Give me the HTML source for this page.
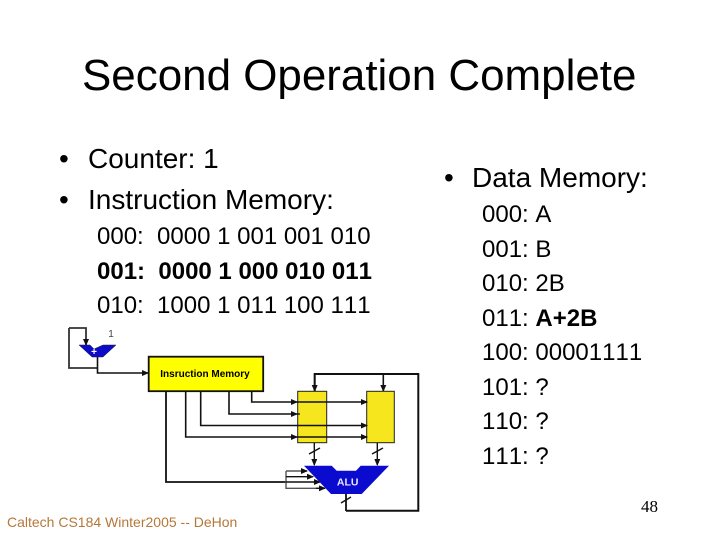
<!DOCTYPE html>
<html><head><meta charset="utf-8"><style>
html,body{margin:0;padding:0;background:#fff}
svg{display:block}
text{font-family:"Liberation Sans",sans-serif;fill:#000;white-space:pre;font-kerning:none}
.b{font-size:28px}.s{font-size:24px}
</style></head><body>
<svg xmlns="http://www.w3.org/2000/svg" width="720" height="540" viewBox="0 0 720 540">
<rect width="720" height="540" fill="#fff"/>
<text x="82" y="90" font-size="43.95">Second Operation Complete</text>
<text class="b" x="59" y="168">•</text><text class="b" x="88" y="168">Counter: 1</text>
<text class="b" x="59" y="209">•</text><text class="b" x="88" y="209">Instruction Memory:</text>
<text class="s" x="97" y="244" xml:space="preserve">000:  0000 1 001 001 010</text>
<text class="s" x="97" y="279" font-weight="bold" xml:space="preserve">001:  0000 1 000 010 011</text>
<text class="s" x="97" y="313" xml:space="preserve">010:  1000 1 011 100 111</text>
<text class="b" x="444" y="187">•</text><text class="b" x="472" y="187">Data Memory:</text>
<text class="s" x="482" y="222">000: A</text>
<text class="s" x="482" y="257">001: B</text>
<text class="s" x="482" y="291">010: 2B</text>
<text class="s" x="482" y="326">011: <tspan font-weight="bold">A+2B</tspan></text>
<text class="s" x="482" y="360">100: 00001111</text>
<text class="s" x="482" y="395">101: ?</text>
<text class="s" x="482" y="429">110: ?</text>
<text class="s" x="482" y="464">111: ?</text>
<text x="7" y="527" font-size="14" style="fill:#b5783a">Caltech CS184 Winter2005 -- DeHon</text>
<text x="641" y="512" font-size="17" style="font-family:'Liberation Serif',serif">48</text>
<defs><marker id="a" markerWidth="7" markerHeight="6" refX="6" refY="3" orient="auto" markerUnits="userSpaceOnUse"><path d="M0 0L7 3L0 6Z" fill="#111"/></marker></defs>
<g fill="none" stroke="#111" stroke-width="1.6">
<path d="M69 328V368H97.5M69 328H86V345" stroke="#333" stroke-width="1.8" marker-end="url(#a)"/>
<path d="M97.5 357V373H148" marker-end="url(#a)"/>
<path d="M166 391V482H286" stroke-width="1.8"/>
<path d="M185.7 391V437H297" marker-end="url(#a)"/>
<path d="M200.7 391V425.5H297"/>
<path d="M229 391V414H297" marker-end="url(#a)"/>
<path d="M251.7 391V402H297" marker-end="url(#a)"/>
<path d="M314.7 391V374H418.3V510.7H346" stroke-width="2"/>
<path d="M314.7 374V391" marker-end="url(#a)"/>
<path d="M383.3 374V391" marker-end="url(#a)"/>
</g>
<rect x="148.7" y="356.7" width="114.5" height="34.5" fill="#ffff00" stroke="#111" stroke-width="1.8"/>
<text x="205" y="377" font-size="10" font-weight="bold" text-anchor="middle">Insruction Memory</text>
<rect x="297.7" y="391.3" width="29" height="51.4" fill="#f5e61e" stroke="#222" stroke-width="1"/>
<rect x="366.7" y="391.3" width="27.6" height="51.4" fill="#f5e61e" stroke="#222" stroke-width="1"/>
<g fill="none" stroke="#111" stroke-width="1.4">
<path d="M297 402H367" marker-end="url(#a)"/>
<path d="M297 414H300"/>
<path d="M297 425.5H367" marker-end="url(#a)"/>
<path d="M297 437H367" marker-end="url(#a)"/>
<path d="M314.3 442.7V465" marker-end="url(#a)"/>
<path d="M377.3 442.7V465" marker-end="url(#a)"/>
<path d="M309 454L320 448M372 454L383 448M341 503L351 497" />
<path d="M346 494V511" stroke-width="1.8"/>
<path d="M286 471V488.3H325" stroke="#555"/>
<path d="M286 471H307" stroke="#555" marker-end="url(#a)"/>
<path d="M286 476.7H313" marker-end="url(#a)"/>
<path d="M286 482H320" marker-end="url(#a)"/>
<path d="M316 488.3H325" marker-end="url(#a)"/>
</g>
<polygon points="79,345 90,345 94,349 103,345 116,345 103,357 92,357" fill="#0c0cc8" stroke="#223" stroke-width=".5"/>
<text x="94" y="355" font-size="10" font-weight="bold" text-anchor="middle" style="fill:#fff">+</text>
<text x="111" y="337" font-size="10" text-anchor="middle" style="fill:#444">1</text>
<polygon points="304,465.7 331.7,465.7 336.7,470.7 356,470.7 360.7,465.7 389,465.7 361.7,494 331,494" fill="#0b0bd0"/>
<text x="347.7" y="485.5" font-size="10.5" font-weight="bold" text-anchor="middle" style="fill:#e8e8ff">ALU</text>
</svg>
</body></html>
